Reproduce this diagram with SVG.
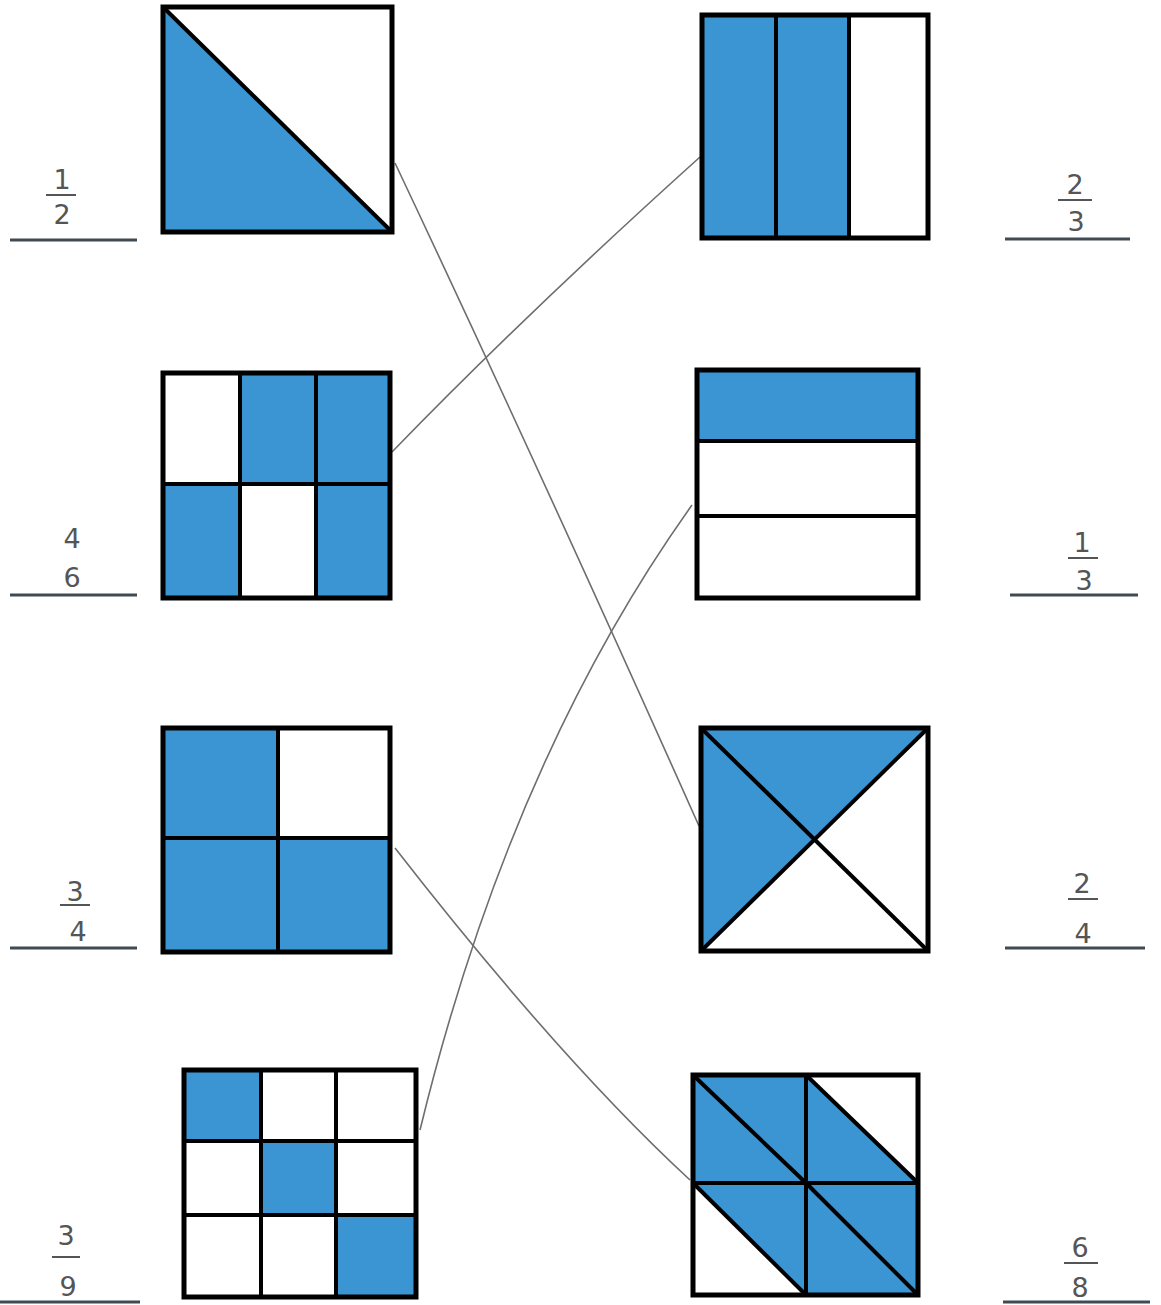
<svg xmlns="http://www.w3.org/2000/svg" width="1161" height="1305" viewBox="0 0 1161 1305">
<style>
.b{fill:#3b95d3;stroke:none}
.f{fill:none;stroke:#000;stroke-width:5;stroke-linejoin:miter}
.d{stroke:#000;stroke-width:4;fill:none}
.c{fill:none;stroke:#6e6e6e;stroke-width:1.6}
.t{font-family:"DejaVu Sans",sans-serif;font-size:27px;fill:#555;text-anchor:middle}
.u{stroke:#3f4a52;stroke-width:3}
.bar{stroke:#555;stroke-width:2}
</style>
<rect width="1161" height="1305" fill="#fff"/>
<g id="connectors">
<path class="c" d="M395,163 Q540,470 699,826"/>
<path class="c" d="M392,452 Q530,310 700,157"/>
<path class="c" d="M395,848 Q560,1060 690,1180"/>
<path class="c" d="M420,1130 Q510,760 692,505"/>
</g>
<g id="box-half">
<polygon class="b" points="163,7 163,232 392,232"/>
<line class="d" x1="163" y1="7" x2="392" y2="232"/>
<rect class="f" x="163" y="7" width="229" height="225"/>
</g>
<g id="box-four-sixths">
<rect class="b" x="240" y="373" width="150" height="111"/>
<rect class="b" x="163" y="484" width="77" height="114"/>
<rect class="b" x="316" y="484" width="74" height="114"/>
<line class="d" x1="240" y1="373" x2="240" y2="598"/>
<line class="d" x1="316" y1="373" x2="316" y2="598"/>
<line class="d" x1="163" y1="484" x2="390" y2="484"/>
<rect class="f" x="163" y="373" width="227" height="225"/>
</g>
<g id="box-three-quarters">
<rect class="b" x="163" y="728" width="115" height="224"/>
<rect class="b" x="278" y="838" width="112" height="114"/>
<line class="d" x1="278" y1="728" x2="278" y2="952"/>
<line class="d" x1="163" y1="838" x2="390" y2="838"/>
<rect class="f" x="163" y="728" width="227" height="224"/>
</g>
<g id="box-three-ninths">
<rect class="b" x="184" y="1070" width="77" height="71"/>
<rect class="b" x="261" y="1141" width="75" height="74"/>
<rect class="b" x="336" y="1215" width="80" height="82"/>
<line class="d" x1="261" y1="1070" x2="261" y2="1297"/>
<line class="d" x1="336" y1="1070" x2="336" y2="1297"/>
<line class="d" x1="184" y1="1141" x2="416" y2="1141"/>
<line class="d" x1="184" y1="1215" x2="416" y2="1215"/>
<rect class="f" x="184" y="1070" width="232" height="227"/>
</g>
<g id="box-two-thirds">
<rect class="b" x="702" y="15" width="147" height="223"/>
<line class="d" x1="776" y1="15" x2="776" y2="238"/>
<line class="d" x1="849" y1="15" x2="849" y2="238"/>
<rect class="f" x="702" y="15" width="226" height="223"/>
</g>
<g id="box-one-third">
<rect class="b" x="697" y="370" width="221" height="71"/>
<line class="d" x1="697" y1="441" x2="918" y2="441"/>
<line class="d" x1="697" y1="516" x2="918" y2="516"/>
<rect class="f" x="697" y="370" width="221" height="228"/>
</g>
<g id="box-two-quarters">
<polygon class="b" points="701,728 928,728 814.5,839.5 701,951"/>
<line class="d" x1="701" y1="728" x2="928" y2="951"/>
<line class="d" x1="928" y1="728" x2="701" y2="951"/>
<rect class="f" x="701" y="728" width="227" height="223"/>
</g>
<g id="box-six-eighths">
<rect class="b" x="693" y="1075" width="113" height="108"/>
<polygon class="b" points="806,1075 918,1183 806,1183"/>
<polygon class="b" points="693,1183 806,1183 806,1295"/>
<rect class="b" x="806" y="1183" width="112" height="112"/>
<line class="d" x1="693" y1="1075" x2="806" y2="1183"/>
<line class="d" x1="806" y1="1075" x2="918" y2="1183"/>
<line class="d" x1="693" y1="1183" x2="806" y2="1295"/>
<line class="d" x1="806" y1="1183" x2="918" y2="1295"/>
<line class="d" x1="806" y1="1075" x2="806" y2="1295"/>
<line class="d" x1="693" y1="1183" x2="918" y2="1183"/>
<rect class="f" x="693" y="1075" width="225" height="220"/>
</g>
<g id="label-1-2">
<text class="t" x="62" y="189" font-size="22">1</text>
<line class="bar" x1="46" y1="195" x2="76" y2="195"/>
<text class="t" x="62" y="224" font-size="24">2</text>
<line class="u" x1="10" y1="240" x2="137" y2="240"/>
</g>
<g id="label-4-6">
<text class="t" x="72" y="548">4</text>
<text class="t" x="72" y="587">6</text>
<line class="u" x1="10" y1="595" x2="137" y2="595"/>
</g>
<g id="label-3-4">
<text class="t" x="75" y="901">3</text>
<line class="bar" x1="60" y1="905" x2="90" y2="905"/>
<text class="t" x="78" y="941">4</text>
<line class="u" x1="10" y1="948" x2="137" y2="948"/>
</g>
<g id="label-3-9">
<text class="t" x="66" y="1245">3</text>
<line class="bar" x1="52" y1="1257" x2="80" y2="1257"/>
<text class="t" x="68" y="1296">9</text>
<line class="u" x1="0" y1="1302" x2="140" y2="1302"/>
</g>
<g id="label-2-3">
<text class="t" x="1075" y="194">2</text>
<line class="bar" x1="1058" y1="200" x2="1092" y2="200"/>
<text class="t" x="1076" y="231">3</text>
<line class="u" x1="1005" y1="239" x2="1130" y2="239"/>
</g>
<g id="label-1-3">
<text class="t" x="1082" y="552" font-size="24">1</text>
<line class="bar" x1="1068" y1="558" x2="1098" y2="558"/>
<text class="t" x="1084" y="590">3</text>
<line class="u" x1="1010" y1="595" x2="1138" y2="595"/>
</g>
<g id="label-2-4">
<text class="t" x="1082" y="893">2</text>
<line class="bar" x1="1068" y1="899" x2="1098" y2="899"/>
<text class="t" x="1083" y="943">4</text>
<line class="u" x1="1005" y1="948" x2="1145" y2="948"/>
</g>
<g id="label-6-8">
<text class="t" x="1080" y="1257">6</text>
<line class="bar" x1="1064" y1="1263" x2="1098" y2="1263"/>
<text class="t" x="1080" y="1297">8</text>
<line class="u" x1="1003" y1="1302" x2="1150" y2="1302"/>
</g>
</svg>
